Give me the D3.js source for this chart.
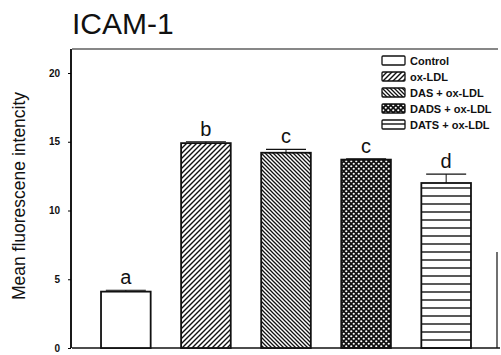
<!DOCTYPE html>
<html lang="en">
<meta charset="utf-8">
<title>ICAM-1</title>
<style>
  body { margin: 0; background: #fff; }
  svg { display: block; font-family: Arial, "Liberation Sans", sans-serif; }
</style>
<body>
<div id="chart"></div>
<script src="https://cdn.jsdelivr.net/npm/d3@7"></script>
<script>
// values
var groups = ["Control", "ox-LDL", "DAS + ox-LDL", "DADS + ox-LDL", "DATS + ox-LDL"];
var means = [4.1, 14.9, 14.2, 13.7, 12.0];
var errors = [0.1, 0.1, 0.25, 0.05, 0.65];
var letters = ["a", "b", "c", "c", "d"];
var yTicks = [0, 5, 10, 15, 20];
var fills = ["#fff", "url(#pFwd)", "url(#pBack)", "url(#pDots)", "url(#pHoriz)"];

var W = 501, H = 355;
var svg = d3.select("#chart").append("svg").attr("width", W).attr("height", H);

// hatch patterns
var defs = svg.append("defs");
function hatch(id, size, path, sw) {
  var p = defs.append("pattern").attr("id", id).attr("patternUnits", "userSpaceOnUse")
    .attr("width", size).attr("height", size);
  p.append("rect").attr("width", size).attr("height", size).attr("fill", "#fff");
  p.append("path").attr("d", path).attr("stroke", "#111").attr("stroke-width", sw);
}
hatch("pFwd", 5, "M-1,1 l2,-2 M0,5 l5,-5 M4,6 l2,-2", 1.4);
hatch("pBack", 4, "M-1,3 l2,2 M0,0 l4,4 M3,-1 l2,2", 1.3);
hatch("pHoriz", 8, "M0,4 h8", 1.4);
var dots = defs.append("pattern").attr("id", "pDots").attr("patternUnits", "userSpaceOnUse")
  .attr("width", 5).attr("height", 5);
dots.append("rect").attr("width", 5).attr("height", 5).attr("fill", "#111");
dots.append("circle").attr("cx", 1.25).attr("cy", 1.25).attr("r", 1.1).attr("fill", "#fff");
dots.append("circle").attr("cx", 3.75).attr("cy", 3.75).attr("r", 1.1).attr("fill", "#fff");

var x0 = 85, x1 = 487;
var x = d3.scaleBand().domain(groups).range([x0, x1]).paddingInner(0.38).paddingOuter(0.2);
var y = d3.scaleLinear().domain([0, 20]).range([348, 73]);

// frame lines
svg.append("line").attr("x1", 72).attr("x2", 498).attr("y1", 49).attr("y2", 49)
  .attr("stroke", "#111").attr("stroke-width", 1.2);
svg.append("line").attr("x1", 497).attr("x2", 497).attr("y1", 252).attr("y2", 348)
  .attr("stroke", "#111").attr("stroke-width", 1.2);
svg.append("line").attr("x1", 72).attr("x2", 500).attr("y1", 348).attr("y2", 348)
  .attr("stroke", "#111").attr("stroke-width", 1.5);

// y axis
var yAxis = svg.append("g").attr("transform", "translate(71,0)")
  .call(d3.axisLeft(y).tickValues(yTicks).tickSize(3).tickPadding(8));
yAxis.select(".domain").attr("d", "M0,49V348").attr("stroke-width", 1.8);
yAxis.selectAll("text").attr("font-size", 10).attr("font-weight", "bold").attr("fill", "#111");

// bars
svg.selectAll("rect.bar").data(groups).join("rect").attr("class", "bar")
  .attr("x", d => x(d)).attr("width", x.bandwidth())
  .attr("y", (d, i) => y(means[i])).attr("height", (d, i) => y(0) - y(means[i]))
  .attr("fill", (d, i) => fills[i]).attr("stroke", "#111").attr("stroke-width", 1.8);

// error caps
var capW = 40;
svg.selectAll("g.err").data(groups).join("g").attr("class", "err").each(function(d, i) {
  var g = d3.select(this), cx = x(d) + x.bandwidth() / 2, top = y(means[i] + errors[i]);
  g.append("line").attr("x1", cx).attr("x2", cx).attr("y1", top).attr("y2", y(means[i]))
    .attr("stroke", "#111").attr("stroke-width", 1);
  g.append("line").attr("x1", cx - capW / 2).attr("x2", cx + capW / 2).attr("y1", top).attr("y2", top)
    .attr("stroke", "#111").attr("stroke-width", 1.2);
});

// significance letters
svg.selectAll("text.sig").data(groups).join("text").attr("class", "sig")
  .attr("x", d => x(d) + x.bandwidth() / 2)
  .attr("y", (d, i) => y(means[i] + errors[i]) - 6)
  .attr("text-anchor", "middle").attr("font-size", 20).attr("fill", "#111")
  .text((d, i) => letters[i]);

// title and axis label
svg.append("text").attr("x", 72).attr("y", 34).attr("font-size", 30).attr("fill", "#111").text("ICAM-1");
svg.append("text").attr("transform", "translate(25,196) rotate(-90)").attr("text-anchor", "middle")
  .attr("font-size", 17.5).attr("fill", "#111").text("Mean fluorescene intencity");

// legend
var leg = svg.append("g").attr("transform", "translate(382,56)");
var row = leg.selectAll("g").data(groups).join("g").attr("transform", (d, i) => "translate(0," + i * 16 + ")");
row.append("rect").attr("width", 23).attr("height", 9).attr("rx", 1)
  .attr("fill", (d, i) => fills[i]).attr("stroke", "#111").attr("stroke-width", 1.3);
row.append("text").attr("x", 28).attr("y", 8.5).attr("font-size", 11).attr("font-weight", "bold")
  .attr("fill", "#111").text(d => d);
</script>
</body>
</html>
